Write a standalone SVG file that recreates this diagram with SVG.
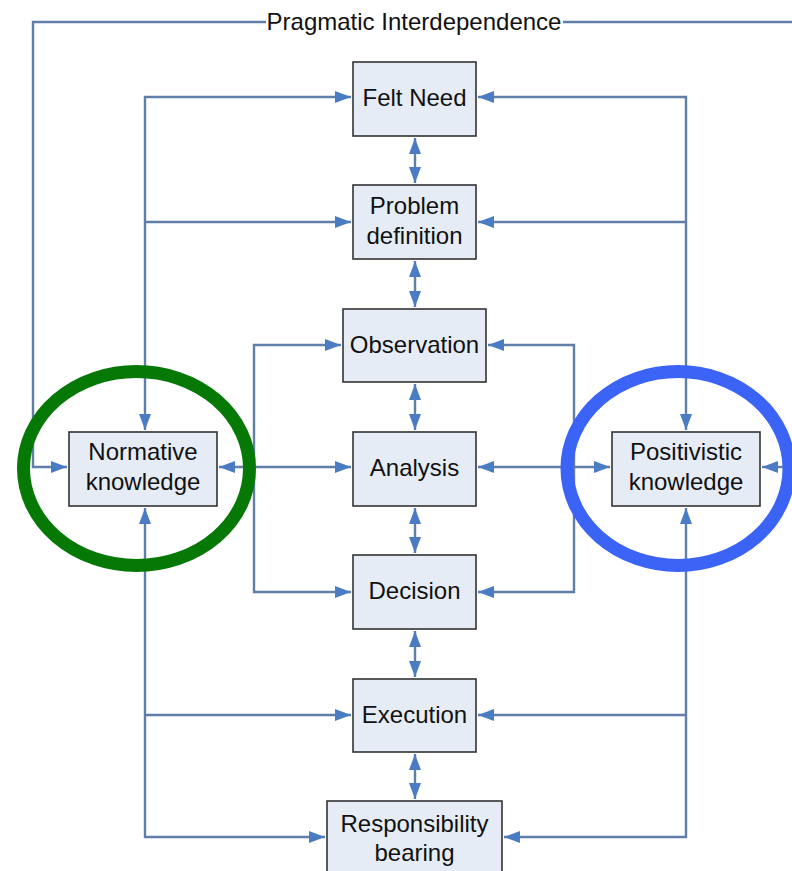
<svg xmlns="http://www.w3.org/2000/svg" width="792" height="871" viewBox="0 0 792 871">
<defs>
<style>
.box{fill:#e6ecf6;stroke:#333;stroke-width:1.6}
.lbl{font-family:"Liberation Sans",Arial,sans-serif;font-size:24px;fill:#111;text-anchor:middle}
.ln{fill:none;stroke:#5f7ea8;stroke-width:2.4}
</style>
<marker id="ah" markerUnits="userSpaceOnUse" markerWidth="18" markerHeight="14" refX="16" refY="7" orient="auto-start-reverse">
<path d="M0,1 L16,7 L0,13 Z" fill="#4a7cc4"/>
</marker>
</defs>
<rect width="792" height="871" fill="#fff"/>

<g id="connectors">
<!-- pragmatic interdependence -->
<polyline class="ln" points="266,22 33,22 33,467 67,467" marker-end="url(#ah)"/>
<line class="ln" x1="563" y1="22" x2="792" y2="22"/>
<line class="ln" x1="792" y1="467" x2="762" y2="467" marker-end="url(#ah)"/>
<!-- left normative tree -->
<polyline class="ln" points="351,97 145,97 145,430" marker-start="url(#ah)" marker-end="url(#ah)"/>
<line class="ln" x1="145" y1="222" x2="351" y2="222" marker-end="url(#ah)"/>
<polyline class="ln" points="145,508 145,837 325,837" marker-start="url(#ah)" marker-end="url(#ah)"/>
<line class="ln" x1="145" y1="715" x2="351" y2="715" marker-end="url(#ah)"/>
<!-- right positivistic tree -->
<polyline class="ln" points="478,97 686,97 686,430" marker-start="url(#ah)" marker-end="url(#ah)"/>
<line class="ln" x1="686" y1="222" x2="478" y2="222" marker-end="url(#ah)"/>
<polyline class="ln" points="686,508 686,837 504,837" marker-start="url(#ah)" marker-end="url(#ah)"/>
<line class="ln" x1="686" y1="715" x2="478" y2="715" marker-end="url(#ah)"/>
<!-- inner left -->
<line class="ln" x1="219" y1="467" x2="351" y2="467" marker-start="url(#ah)" marker-end="url(#ah)"/>
<polyline class="ln" points="341,345 254,345 254,592 351,592" marker-start="url(#ah)" marker-end="url(#ah)"/>
<!-- inner right -->
<line class="ln" x1="478" y1="467" x2="610" y2="467" marker-start="url(#ah)" marker-end="url(#ah)"/>
<polyline class="ln" points="488,345 574,345 574,592 478,592" marker-start="url(#ah)" marker-end="url(#ah)"/>
<!-- central spine -->
<line class="ln" x1="415" y1="138" x2="415" y2="183" marker-start="url(#ah)" marker-end="url(#ah)"/>
<line class="ln" x1="415" y1="261" x2="415" y2="307" marker-start="url(#ah)" marker-end="url(#ah)"/>
<line class="ln" x1="415" y1="384" x2="415" y2="430" marker-start="url(#ah)" marker-end="url(#ah)"/>
<line class="ln" x1="415" y1="508" x2="415" y2="553" marker-start="url(#ah)" marker-end="url(#ah)"/>
<line class="ln" x1="415" y1="631" x2="415" y2="677" marker-start="url(#ah)" marker-end="url(#ah)"/>
<line class="ln" x1="415" y1="754" x2="415" y2="799" marker-start="url(#ah)" marker-end="url(#ah)"/>
</g>

<text class="lbl" x="414" y="30">Pragmatic Interdependence</text>

<g id="felt-need"><rect class="box" x="353" y="62" width="123" height="74"/><text class="lbl" x="414.5" y="106">Felt Need</text></g>
<g id="problem-definition"><rect class="box" x="353" y="185" width="123" height="74"/><text class="lbl" x="414.5" y="214">Problem</text><text class="lbl" x="414.5" y="244">definition</text></g>
<g id="observation"><rect class="box" x="343" y="309" width="143" height="73"/><text class="lbl" x="414.5" y="353">Observation</text></g>
<g id="analysis"><rect class="box" x="353" y="432" width="123" height="74"/><text class="lbl" x="414.5" y="476">Analysis</text></g>
<g id="decision"><rect class="box" x="353" y="555" width="123" height="74"/><text class="lbl" x="414.5" y="599">Decision</text></g>
<g id="execution"><rect class="box" x="353" y="679" width="123" height="73"/><text class="lbl" x="414.5" y="723">Execution</text></g>
<g id="responsibility-bearing"><rect class="box" x="327" y="801" width="175" height="80"/><text class="lbl" x="414.5" y="832">Responsibility</text><text class="lbl" x="414.5" y="861">bearing</text></g>
<g id="normative-knowledge"><rect class="box" x="69" y="432" width="148" height="74"/><text class="lbl" x="143" y="460">Normative</text><text class="lbl" x="143" y="490">knowledge</text></g>
<g id="positivistic-knowledge"><rect class="box" x="612" y="432" width="148" height="74"/><text class="lbl" x="686" y="460">Positivistic</text><text class="lbl" x="686" y="490">knowledge</text></g>

<g id="highlights">
<ellipse cx="136.5" cy="468.5" rx="113" ry="97" fill="none" stroke="#067806" stroke-width="13"/>
<ellipse cx="678" cy="468.5" rx="111" ry="97" fill="none" stroke="#3b63f6" stroke-width="13"/>
</g>
</svg>
